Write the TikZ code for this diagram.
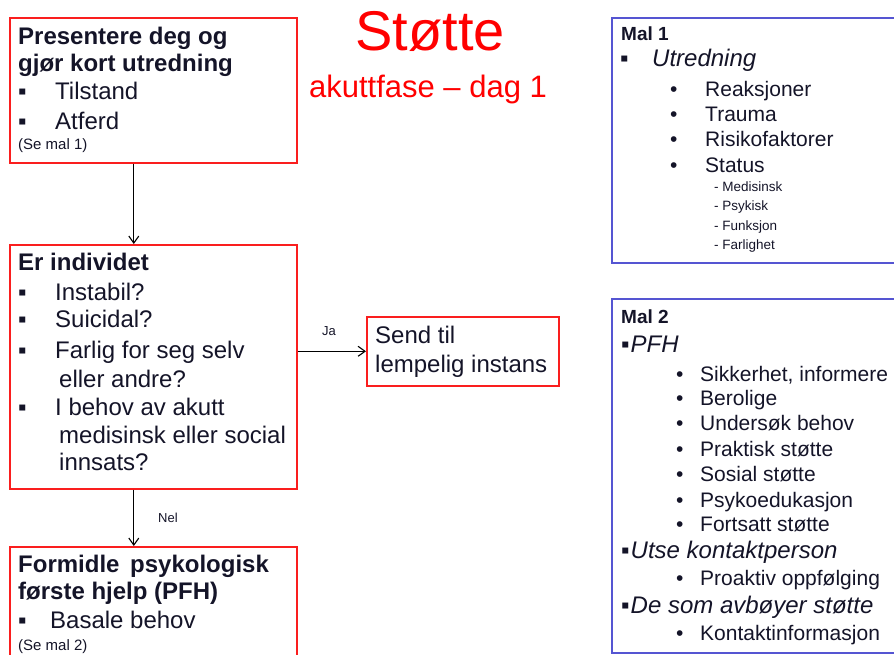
\documentclass[tikz,border=0pt]{standalone}
\usepackage{fontspec}
\setmainfont{Liberation Sans}
\usetikzlibrary{arrows.meta}
\definecolor{boxred}{RGB}{250,30,30}
\definecolor{boxblue}{RGB}{85,85,210}
\definecolor{txtdark}{RGB}{20,20,40}
\newcommand{\bsq}[1]{\makebox[#1][l]{▪}}
\newcommand{\bdot}[1]{\makebox[#1][l]{•}}
\begin{document}
\begin{tikzpicture}[x=1pt,y=-1pt,
  redbox/.style={draw=boxred,line width=1.6pt,rectangle,inner sep=0pt,anchor=north west},
  bluebox/.style={draw=boxblue,line width=1.6pt,rectangle,inner sep=0pt,anchor=north west},
  txt/.style={inner sep=0pt,anchor=base west,text=txtdark},
  big/.style={txt,font=\fontsize{24}{28}\selectfont},
  bigb/.style={txt,font=\bfseries\fontsize{24}{28}\selectfont},
  mid/.style={txt,font=\fontsize{21}{25}\selectfont},
  midi/.style={txt,font=\itshape\fontsize{24}{28}\selectfont},
  malh/.style={txt,font=\bfseries\fontsize{19}{22}\selectfont},
  note/.style={txt,font=\fontsize{15}{18}\selectfont},
  tiny/.style={txt,font=\fontsize{13.5}{16}\selectfont},
  lbl/.style={txt,anchor=base,font=\fontsize{13}{16}\selectfont},
  arr/.style={draw=black,line width=1.1pt,-{Straight Barb[length=7pt,width=10pt]}}]
\useasboundingbox (0,0) rectangle (894,655);
\clip (0,0) rectangle (894,655);
% title
\node[txt,anchor=base,text=red,font=\fontsize{56}{60}\selectfont] (title) at (430,51) {Støtte};
\node[txt,anchor=base,text=red,font=\fontsize{31}{36}\selectfont] (subtitle) at (428,98) {akuttfase – dag 1};
% box 1
\node[redbox,minimum width=287pt,minimum height=145pt] (b1) at (9,17) {};
\node[bigb] (b1a) at (18,45) {Presentere deg og};
\node[bigb] (b1b) at (18,72) {gjør kort utredning};
\node[big] (b1c) at (18,100) {\bsq{37pt}Tilstand};
\node[big] (b1d) at (18,130) {\bsq{37pt}Atferd};
\node[note] (b1e) at (18,150) {(Se mal 1)};
% box 2
\node[redbox,minimum width=287pt,minimum height=244pt] (b2) at (9,244) {};
\node[bigb] (b2a) at (18,270) {Er individet};
\node[big] (b2b) at (18,300) {\bsq{37pt}Instabil?};
\node[big] (b2c) at (18,327) {\bsq{37pt}Suicidal?};
\node[big] (b2d) at (18,358) {\bsq{37pt}Farlig for seg selv};
\node[big] (b2e) at (59,387) {eller andre?};
\node[big] (b2f) at (18,415) {\bsq{37pt}I behov av akutt};
\node[big] (b2g) at (59,443) {medisinsk eller social};
\node[big] (b2h) at (59,470) {innsats?};
% box 3
\node[redbox,minimum width=287pt,minimum height=160pt] (b3) at (9,546) {};
\node[bigb] (b3a) at (18,572) {Formidle\, psykologisk};
\node[bigb] (b3b) at (18,599) {første hjelp (PFH)};
\node[big] (b3c) at (18,628) {\bsq{32pt}Basale behov};
\node[note] (b3d) at (18,650) {(Se mal 2)};
% send box
\node[redbox,minimum width=192pt,minimum height=69pt] (send) at (366,316) {};
\node[big] (s1) at (375,343) {Send til};
\node[big] (s2) at (375,372) {lempelig instans};
% connectors
\draw[arr] ([xshift=-19.5pt]b1.south) -- ([xshift=-19.5pt]b2.north);
\draw[arr] ([xshift=-19.5pt]b2.south) -- ([xshift=-19.5pt]b3.north);
\draw[arr] (b2.east |- send.west) -- (send.west);
\node[lbl] (ja) at (329,335) {Ja};
\node[lbl] (nei) at (168,522) {Nel};
% Mal 1
\node[bluebox,minimum width=300pt,minimum height=245pt] (m1) at (611,17) {};
\node[malh] (m1h) at (621,41) {Mal 1};
\node[txt,font=\fontsize{24}{28}\selectfont] (m1b) at (620,67) {▪};
\node[midi] (m1a) at (652,67) {Utredning};
\node[mid] (m1c) at (670,97) {\bdot{35pt}Reaksjoner};
\node[mid] (m1d) at (670,122) {\bdot{35pt}Trauma};
\node[mid] (m1e) at (670,147) {\bdot{35pt}Risikofaktorer};
\node[mid] (m1f) at (670,173) {\bdot{35pt}Status};
\node[tiny] (m1g) at (714,192) {- Medisinsk};
\node[tiny] (m1i) at (714,211) {- Psykisk};
\node[tiny] (m1j) at (714,230) {- Funksjon};
\node[tiny] (m1k) at (714,249) {- Farlighet};
% Mal 2
\node[bluebox,minimum width=300pt,minimum height=354pt] (m2) at (611,298) {};
\node[malh] (m2h) at (621,323) {Mal 2};
\node[midi] (m2a) at (621,352) {▪\hspace{1pt}PFH};
\node[mid] (m2b) at (676,381) {\bdot{24pt}Sikkerhet, informere};
\node[mid] (m2c) at (676,405) {\bdot{24pt}Berolige};
\node[mid] (m2d) at (676,430) {\bdot{24pt}Undersøk behov};
\node[mid] (m2e) at (676,456) {\bdot{24pt}Praktisk støtte};
\node[mid] (m2f) at (676,481) {\bdot{24pt}Sosial støtte};
\node[mid] (m2g) at (676,507) {\bdot{24pt}Psykoedukasjon};
\node[mid] (m2i) at (676,531) {\bdot{24pt}Fortsatt støtte};
\node[midi] (m2j) at (621,558) {▪\hspace{1pt}Utse kontaktperson};
\node[mid] (m2k) at (676,585) {\bdot{24pt}Proaktiv oppfølging};
\node[midi] (m2l) at (621,613) {▪\hspace{1pt}De som avbøyer støtte};
\node[mid] (m2m) at (676,640) {\bdot{24pt}Kontaktinformasjon};
\end{tikzpicture}
\end{document}
